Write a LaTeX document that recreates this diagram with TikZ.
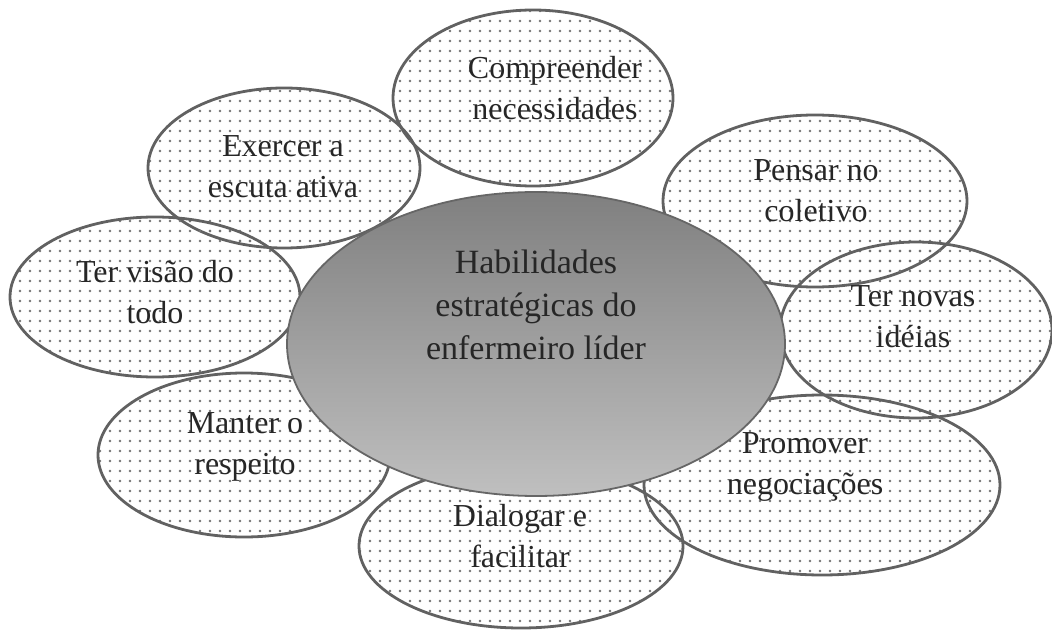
\documentclass[tikz,border=0pt]{standalone}
\usepackage{fontspec}
\setmainfont{Liberation Serif}
\usetikzlibrary{patterns.meta,shapes.geometric}
\tikzset{
  petal/.style={ellipse, draw=black!62, line width=2.8pt,
    pattern={Dots[distance=10pt,radius=1.4pt]}, pattern color=black!55, inner sep=0pt},
  core/.style={ellipse, draw=black!60, line width=1.8pt, inner sep=0pt,
    top color=black!50, middle color=black!62, bottom color=black!25},
  lbl/.style={align=center, font=\fontsize{32}{41}\selectfont, text=black!85, inner sep=0pt}
}
\begin{document}
\begin{tikzpicture}[x=1pt,y=-1pt]
\useasboundingbox (0,0) rectangle (1052,631);
\node[petal, minimum width=280pt, minimum height=176pt] (p1) at (533,98) {};
\node[petal, minimum width=272pt, minimum height=160pt] (p2) at (284,168) {};
\node[petal, minimum width=304pt, minimum height=172pt] (p3) at (815,201) {};
\node[petal, minimum width=272pt, minimum height=176pt] (p4) at (916,330) {};
\node[petal, minimum width=356pt, minimum height=180pt] (p5) at (822,485) {};
\node[petal, minimum width=324pt, minimum height=164pt] (p6) at (521,546) {};
\node[petal, minimum width=292pt, minimum height=164pt] (p7) at (244,455) {};
\node[petal, minimum width=290pt, minimum height=160pt] (p8) at (155,297) {};
\node[core, minimum width=498pt, minimum height=304pt] (c) at (536,344) {};
\node[lbl] (t1) at (555,88) {Compreender\\necessidades};
\node[lbl] (t2) at (283,167) {Exercer a\\escuta ativa};
\node[lbl] (t3) at (816,191) {Pensar no\\coletivo};
\node[lbl] (t4) at (913,317) {Ter novas\\idéias};
\node[lbl] (t5) at (805,467) {Promover\\negociações};
\node[lbl] (t6) at (520,536) {Dialogar e\\facilitar};
\node[lbl] (t7) at (245,447) {Manter o\\respeito};
\node[lbl] (t8) at (155,292) {Ter visão do\\todo};
\node[lbl, font=\fontsize{34}{43}\selectfont] (tc) at (536,305) {Habilidades\\estratégicas do\\enfermeiro líder};
\end{tikzpicture}
\end{document}
